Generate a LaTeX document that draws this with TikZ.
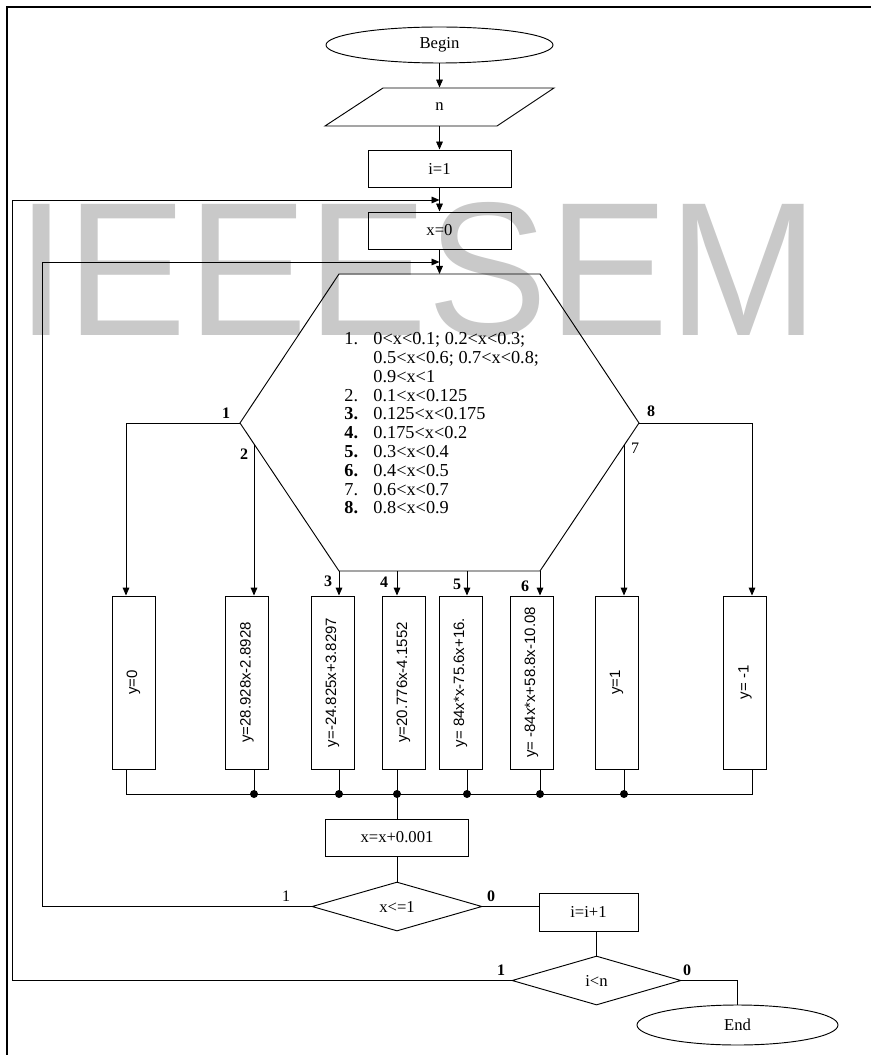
\documentclass[tikz,border=0pt]{standalone}
\usepackage{fontspec}
\setmainfont{Liberation Serif}
\newfontfamily\boxsans{Liberation Sans}
\usetikzlibrary{shapes.geometric,arrows.meta,calc}
\begin{document}
\begin{tikzpicture}[x=0.75pt,y=-0.75pt,
  line width=0.7pt,
  arr/.style={-{Triangle[length=6pt,width=5pt]}},
  txt/.style={font=\fontsize{12.5}{15}\selectfont},
  lbl/.style={inner sep=0pt,font=\fontsize{12}{14}\selectfont\bfseries},
  lblr/.style={inner sep=0pt,font=\fontsize{12}{14}\selectfont},
  box/.style={draw,rectangle,inner sep=0pt,txt},
  term/.style={draw,ellipse,inner sep=0pt,txt},
  cond/.style={draw,diamond,inner sep=0pt,txt,minimum width=127.5pt,minimum height=36.75pt},
  calcbox/.style={draw,rectangle,inner sep=0pt,minimum width=32.25pt,minimum height=129.75pt,
    font=\boxsans\fontsize{11.25}{13}\selectfont},
  dot/.style={fill=black}
]
\useasboundingbox (0,0) rectangle (870,1055);
% watermark
\node[anchor=base west,inner sep=0pt,text=black!21,font=\boxsans\fontsize{143}{143}\selectfont] (wm) at (16,335) {\scalebox{0.947}[1]{IEEESEM}};
% frame
\draw[line width=1.5pt] (7,1056) -- (7,7) -- (871,7);

% top chain
\node[term,minimum width=170.25pt,minimum height=27pt] (begin) at (439.5,45) {Begin};
\node[inner sep=0pt,minimum height=28.5pt,txt] (n) at (439.5,107) {n};
\draw (383,88) -- (554,88) -- (497,126) -- (325,126) -- cycle;
\node[box,minimum width=107.25pt,minimum height=27.75pt] (i1) at (439.5,168.5) {i=1};
\node[box,minimum width=107.25pt,minimum height=27.75pt] (x0) at (439.5,230.5) {x=0};

\draw[arr] (begin.south) -- (n.north);
\draw[arr] (n.south) -- (i1.north);
\draw[arr] (i1.south) -- (x0.north);

% hexagon
\coordinate (H1) at (339,274);
\coordinate (H2) at (540,274);
\coordinate (H3) at (639,423);
\coordinate (H4) at (540,571);
\coordinate (H5) at (339,571);
\coordinate (H6) at (240,423);
\draw (H1) -- (H2) -- (H3) -- (H4) -- (H5) -- (H6) -- cycle;
\draw[arr] (x0.south) -- (x0.south |- H1);

\node[anchor=north west,inner sep=0pt,align=left,font=\fontsize{13.7}{14.1}\selectfont] (list) at (344,332) {%
\makebox[21.75pt][l]{1.}0<x<0.1; 0.2<x<0.3;\\
\hspace*{21.75pt}0.5<x<0.6; 0.7<x<0.8;\\
\hspace*{21.75pt}0.9<x<1\\
\makebox[21.75pt][l]{2.}0.1<x<0.125\\
\makebox[21.75pt][l]{\textbf{3.}}0.125<x<0.175\\
\makebox[21.75pt][l]{\textbf{4.}}0.175<x<0.2\\
\makebox[21.75pt][l]{\textbf{5.}}0.3<x<0.4\\
\makebox[21.75pt][l]{\textbf{6.}}0.4<x<0.5\\
\makebox[21.75pt][l]{7.}0.6<x<0.7\\
\makebox[21.75pt][l]{\textbf{8.}}0.8<x<0.9};

% branch boxes
\node[calcbox] (b1) at (133.5,682.5) {\rotatebox{90}{y=0}};
\node[calcbox] (b2) at (247,682.5) {\rotatebox{90}{y=28.928x-2.8928}};
\node[calcbox] (b3) at (332.5,682.5) {\rotatebox{90}{y=-24.825x+3.8297}};
\node[calcbox] (b4) at (403.5,682.5) {\rotatebox{90}{y=20.776x-4.1552}};
\node[calcbox] (b5) at (460.5,682.5) {\rotatebox{90}{y= 84x*x-75.6x+16.}};
\node[calcbox] (b6) at (531.5,682.5) {\rotatebox{90}{y= -84x*x+58.8x-10.08}};
\node[calcbox] (b7) at (616.5,682.5) {\rotatebox{90}{y=1}};
\node[calcbox] (b8) at (745,682.5) {\rotatebox{90}{y= -1}};

% branch arrows
\coordinate (a1) at (126,423);
\coordinate (a2) at ($(H6)!0.1414!(H5)$);
\coordinate (a4) at (397,571);
\coordinate (a5) at (467,571);
\coordinate (a7) at ($(H3)!0.1515!(H4)$);
\coordinate (a8) at (752,423);
\draw[arr] (H6) -- (a1) -- (a1 |- b1.north);
\draw[arr] (a2) -- (a2 |- b2.north);
\draw[arr] (H5) -- (H5 |- b3.north);
\draw[arr] (a4) -- (a4 |- b4.north);
\draw[arr] (a5) -- (a5 |- b5.north);
\draw[arr] (H4) -- (H4 |- b6.north);
\draw[arr] (a7) -- (a7 |- b7.north);
\draw[arr] (H3) -- (a8) -- (a8 |- b8.north);

\node[lbl] (l1) at (226,413) {1};
\node[lbl] (l2) at (244,454) {2};
\node[lbl] (l8) at (651,411) {8};
\node[lblr] (l7) at (635,448) {7};
\node[lbl] (l3) at (328,581) {3};
\node[lbl] (l4) at (384,582) {4};
\node[lbl] (l5) at (457,584) {5};
\node[lbl] (l6) at (525,586) {6};

% bus
\coordinate (bus) at (0,794);
\draw (a1 |- b1.south) -- (a1 |- bus) -- (a8 |- bus) -- (a8 |- b8.south);
\draw (a2 |- b2.south) -- (a2 |- bus);
\draw (H5 |- b3.south) -- (H5 |- bus);
\draw (a4 |- b4.south) -- (a4 |- bus);
\draw (a5 |- b5.south) -- (a5 |- bus);
\draw (H4 |- b6.south) -- (H4 |- bus);
\draw (a7 |- b7.south) -- (a7 |- bus);
\foreach \c in {a2,H5,a4,a5,H4,a7} \fill[dot] (\c |- bus) circle (3pt);

% lower part
\node[box,minimum width=107.25pt,minimum height=27.75pt] (inc) at (397,837.5) {x=x+0.001};
\draw (a4 |- bus) -- (inc.north);
\node[cond] (d1) at (397,906.5) {x<=1};
\draw (inc.south) -- (d1.north);
\node[box,minimum width=74.25pt,minimum height=28.5pt] (inc2) at (588.5,912) {i=i+1};
\draw (d1.east) -- (d1.east -| inc2.west);
\node[cond,minimum width=126.75pt] (d2) at (596.5,980.5) {i<n};
\draw (inc2.south -| d2.north) -- (d2.north);
\node[term,minimum width=150.75pt,minimum height=30pt] (end) at (737.5,1025) {End};
\coordinate (c0) at (737.5,980.5);
\draw (d2.east) -- (c0) -- (end.north);

% loops
\coordinate (L1) at (42,262);
\coordinate (L2) at (12,200);
\draw[arr] (d1.west) -| (L1) -- (L1 -| x0.south);
\draw[arr] (d2.west) -| (L2) -- (L2 -| i1.south);

\node[lblr] (d1l) at (286,896) {1};
\node[lbl] (d1r) at (491,896) {0};
\node[lbl] (d2l) at (501,970) {1};
\node[lbl] (d2r) at (687,970) {0};
\end{tikzpicture}
\end{document}
